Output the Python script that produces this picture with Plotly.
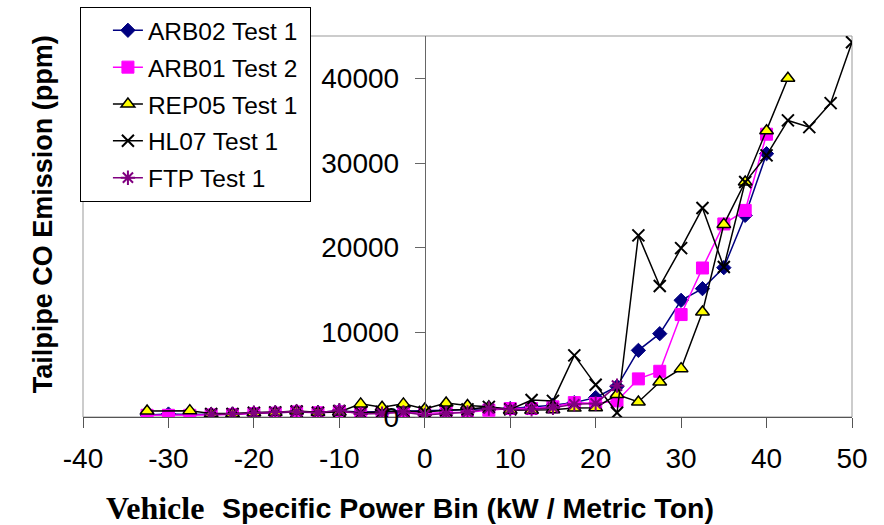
import plotly.graph_objects as go

# Vehicle specific power bins (kW / metric ton)
vsp_bins = [-32.5, -30, -27.5, -25, -22.5, -20, -17.5, -15, -12.5, -10, -7.5, -5,
            -2.5, 0, 2.5, 5, 7.5, 10, 12.5, 15, 17.5, 20, 22.5, 25, 27.5, 30,
            32.5, 35, 37.5, 40, 42.5, 45, 47.5, 50]

# Tailpipe CO (ppm) per bin for each test; None where a bin has no data
arb02_test1 = [250, 350, 300, 300, 350, 450, 500, 600, 550, 700, 600, 650,
               700, 700, 800, 900, 1000, 1000, 1200, 1400, 1700, 2300, 3600, 7870, 9840, 13780,
               15160, 17640, 23810, 31100, None, None, None, None]
arb01_test2 = [200, 200, 200, 250, 300, 400, 450, 600, 500, 600, 500, 500,
               550, 450, 500, 550, 800, 1000, 1000, 1200, 1700, 1600, 1900, 4500, 5400, 12100,
               17600, 22800, 24400, 33400, None, None, None, None]
rep05_test1 = [700, None, 750, 400, 400, 500, 550, 700, 550, 600, 1550, 1150,
               1550, 950, 1650, 1350, 1200, 800, 800, 850, 1050, 1100, 2650, 1770, 4130, 5710,
               12400, 22750, 27750, 33800, 40000, None, None, None]
hl07_test1 = [None, None, None, 350, 350, 500, 550, 650, 500, 700, 500, 600,
              700, 600, 800, 900, 1200, 900, 2000, 1900, 7280, 3800, 500, 21450, 15470, 19950,
              24680, 17710, 27750, 30900, 35030, 34240, 37070, 44270]
ftp_test1 = [None, None, None, 300, 350, 500, 550, 650, 500, 800, 350, 400,
             550, 250, 400, 550, 1000, 900, 900, 1100, 1500, 1600, 3700, None, None, None,
             None, None, None, None, None, None, None, None]

x_ticks = [-40, -30, -20, -10, 0, 10, 20, 30, 40, 50]
y_ticks = [0, 10000, 20000, 30000, 40000]

ARIAL = "Liberation Sans, Arial, sans-serif"
TIMES = "Liberation Serif, Times New Roman, serif"

series = [
    dict(name="ARB02 Test 1", y=arb02_test1, line="#000080",
         marker=dict(symbol="diamond", size=11, color="#000080",
                     line=dict(color="#000080", width=1))),
    dict(name="ARB01 Test 2", y=arb01_test2, line="#FF00FF",
         marker=dict(symbol="square", size=12, color="#FF00FF",
                     line=dict(color="#FF00FF", width=1))),
    dict(name="REP05 Test 1", y=rep05_test1, line="#000000",
         marker=dict(symbol="triangle-up", size=12, color="#FFFF00",
                     line=dict(color="#000000", width=1.5))),
    dict(name="HL07 Test 1", y=hl07_test1, line="#000000",
         marker=dict(symbol="x-thin-open", size=12, color="#000000",
                     line=dict(color="#000000", width=2))),
    dict(name="FTP Test 1", y=ftp_test1, line="#800080",
         marker=dict(symbol="asterisk-open", size=12, color="#800080",
                     line=dict(color="#800080", width=2))),
]

fig = go.Figure()
for s in series:
    fig.add_trace(go.Scatter(
        x=vsp_bins, y=s["y"], name=s["name"] + "\u00a0",
        mode="lines+markers", connectgaps=True,
        line=dict(color=s["line"], width=1.5),
        marker=s["marker"], legendgroup=s["name"],
    ))

# y axis crosses the x axis at x = 0
x_lo, x_hi = -40, 50
zero_pos = (0 - x_lo) / (x_hi - x_lo)

fig.update_layout(
    width=884, height=525,
    margin=dict(l=83, r=32, t=36, b=108, autoexpand=False),
    paper_bgcolor="white", plot_bgcolor="white",
    font=dict(family=ARIAL, color="black"),
    showlegend=True,
    legend=dict(
        x=-0.004, y=1.0765, xanchor="left", yanchor="top",
        bgcolor="white", bordercolor="black", borderwidth=1,
        font=dict(family=ARIAL, size=24.5, color="black"),
        tracegroupgap=2, indentation=27,
    ),
    xaxis=dict(
        range=[x_lo, x_hi], tickvals=x_ticks, ticktext=[str(v) for v in x_ticks],
        showgrid=False, zeroline=False,
        showline=True, linecolor="#555555", linewidth=1,
        ticks="outside", ticklen=10, tickcolor="#555555",
        tickfont=dict(family=ARIAL, size=28, color="black"),
        ticklabelstandoff=6,
    ),
    yaxis=dict(
        range=[0, 45000], tickvals=y_ticks, ticktext=[str(v) for v in y_ticks],
        anchor="free", position=zero_pos,
        showgrid=False, zeroline=False,
        showline=True, linecolor="#666666", linewidth=1,
        ticks="outside", ticklen=10, tickcolor="#666666",
        tickfont=dict(family=ARIAL, size=28, color="black"),
        ticklabelstandoff=10,
    ),
    shapes=[dict(type="rect", xref="paper", yref="paper", x0=0, x1=1, y0=0, y1=1,
                 line=dict(color="#999999", width=1), layer="below")],
    annotations=[
        dict(text="<b>Tailpipe CO Emission (ppm)</b>", xref="paper", yref="paper",
             x=-0.052, y=0.532, xanchor="center", yanchor="middle", textangle=-90,
             showarrow=False, bgcolor="rgba(255,255,255,0)",
             font=dict(family=ARIAL, size=27, color="black")),
        dict(text="<b>Vehicle</b>", xref="paper", yref="paper",
             x=0.16, y=-0.24, xanchor="right", yanchor="middle",
             showarrow=False, font=dict(family=TIMES, size=32, color="black")),
        dict(text="<b>Specific Power Bin (kW / Metric Ton)</b>", xref="paper", yref="paper",
             x=0.178, y=-0.24, xanchor="left", yanchor="middle",
             showarrow=False, font=dict(family=ARIAL, size=28.5, color="black")),
    ],
)

fig.write_html("out.html")
